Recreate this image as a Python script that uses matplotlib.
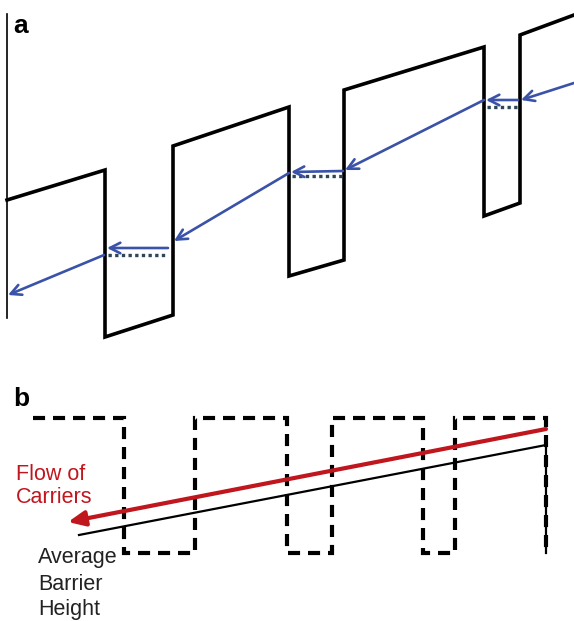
import numpy as np
import matplotlib.pyplot as plt

# schematic drawn in picture coordinates (x right, y down)
W, H = 574, 621

# panel a: tilted barrier profile
barrier_x = [7, 105, 105, 173, 173, 289, 289, 344, 344, 484, 484, 520, 520, 574]
barrier_y = [200, 170, 337, 315, 146, 107, 276, 260, 90, 47, 216, 203, 35, 15]
left_edge_x = [7, 7]
left_edge_y = [14, 318]

# blue carrier hops: (x_start, y_start, x_end, y_end)
hops_diag = [(574, 83, 521, 100), (484, 100, 345, 170),
             (289, 173, 174, 241), (104, 255, 8, 295)]
hops_tunnel = [(518, 100, 486, 100), (343, 171, 291, 172), (168, 248, 107, 248)]
# dotted levels under the tunnelling hops: (x0, x1, y)
levels = [(487, 518, 107), (292, 342, 176), (108, 168, 255)]

# panel b: dashed square-wave barrier
wave_x = [33, 124, 124, 195, 195, 287, 287, 332, 332, 423, 423, 455, 455, 546, 546]
wave_y = [418, 418, 553, 553, 418, 418, 553, 553, 418, 418, 553, 553, 418, 418, 553]
avg_x = [79, 546, 546]
avg_y = [535, 445, 553]
flow_start = (546, 429)
flow_end = (68, 522)

blue = '#3a52a8'
dotc = '#2e4756'
red = '#c0161e'

fig = plt.figure(figsize=(W / 100, H / 100), dpi=100)
ax = fig.add_axes([0, 0, 1, 1])
ax.set_xlim(0, W)
ax.set_ylim(H, 0)
ax.axis('off')

# --- panel a ---
ax.plot(left_edge_x, left_edge_y, color='black', lw=1.2)
ax.plot(barrier_x, barrier_y, color='black', lw=2.6, solid_joinstyle='miter')
for x0, x1, y in levels:
    ax.plot([x0, x1], [y, y], color=dotc, lw=2.4, linestyle=(0, (1, 1)),
            dash_capstyle='butt')
for x0, y0, x1, y1 in hops_diag + hops_tunnel:
    ax.annotate('', xy=(x1, y1), xytext=(x0, y0),
                arrowprops=dict(arrowstyle='->,head_length=0.75,head_width=0.38',
                                color=blue, lw=1.9, shrinkA=0, shrinkB=0))
ax.text(13, 33, 'a', fontsize=19, fontweight='bold', family='Liberation Sans',
        va='baseline', ha='left')

# --- panel b ---
ax.plot(wave_x, wave_y, color='black', lw=3.0, linestyle=(0, (2.9, 1.9)),
        dash_capstyle='butt', dash_joinstyle='miter')
ax.plot(avg_x, avg_y, color='black', lw=1.6)
ax.annotate('', xy=flow_end, xytext=flow_start,
            arrowprops=dict(arrowstyle='-|>,head_length=1.0,head_width=0.45',
                            color=red, lw=3.0, shrinkA=0, shrinkB=0))
ax.text(13, 406, 'b', fontsize=19, fontweight='bold', family='Liberation Sans',
        va='baseline', ha='left')
ax.text(16, 480, 'Flow of', color=red, fontsize=15.5, family='Liberation Sans',
        va='baseline')
ax.text(16, 503, 'Carriers', color=red, fontsize=15.5, family='Liberation Sans',
        va='baseline')
for label, yb in zip(['Average', 'Barrier', 'Height'], [563, 590, 615]):
    ax.text(38, yb, label, color='#222222', fontsize=15.5,
            family='Liberation Sans', va='baseline')

fig.savefig('out.png', dpi=100)
